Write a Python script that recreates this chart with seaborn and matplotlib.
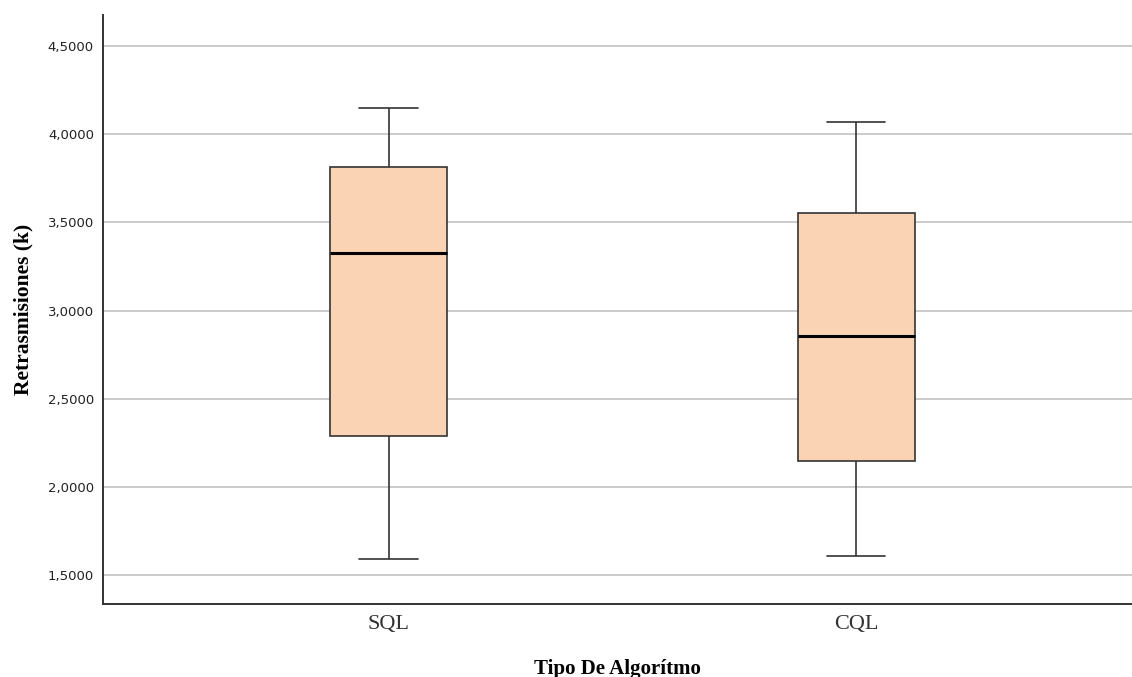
import matplotlib
matplotlib.use("Agg")
import matplotlib.pyplot as plt
import seaborn as sns
import pandas as pd
from matplotlib.ticker import FuncFormatter

# Five-number summaries (min, Q1, median, Q3, max)
categories = ["SQL", "CQL"]
sql_values = [1.591, 2.290, 3.324, 3.813, 4.147]
cql_values = [1.608, 2.146, 2.854, 3.553, 4.070]
y_ticks = [1.5, 2.0, 2.5, 3.0, 3.5, 4.0, 4.5]

df = pd.DataFrame({
    "Tipo De Algorítmo": [categories[0]] * len(sql_values) + [categories[1]] * len(cql_values),
    "Retrasmisiones (k)": sql_values + cql_values,
})

sns.set_theme(style="white")
plt.rcParams["font.family"] = ["DejaVu Sans"]

fig = plt.figure(figsize=(11.32, 6.77), dpi=100)
ax = fig.add_axes([103 / 1132, (677 - 604) / 677, 1029 / 1132, 589 / 677])

edge = "#333333"
sns.boxplot(
    data=df, x="Tipo De Algorítmo", y="Retrasmisiones (k)", order=categories,
    color="#FAD3B4", width=0.25, saturation=1, whis=1.5, ax=ax,
    boxprops=dict(facecolor="#FAD3B4", edgecolor=edge, linewidth=1.2),
    whiskerprops=dict(color=edge, linewidth=1.2),
    capprops=dict(color=edge, linewidth=1.2),
    medianprops=dict(color="black", linewidth=2.2),
    showfliers=False, zorder=3,
)

ax.set_xlim(-0.6107, 1.590)
ax.set_ylim(1.336, 4.676)
ax.set_yticks(y_ticks)
ax.yaxis.set_major_formatter(FuncFormatter(lambda v, p: f"{v:.4f}".replace(".", ",")))
ax.grid(axis="y", color="#BDBDBD", linewidth=1.1, zorder=0)
ax.set_axisbelow(True)

for s in ["top", "right"]:
    ax.spines[s].set_visible(False)
for s in ["left", "bottom"]:
    ax.spines[s].set_color(edge)
    ax.spines[s].set_linewidth(1.4)

ax.tick_params(axis="y", length=0, pad=6.5, labelsize=9.5, labelcolor="#222222")
ax.tick_params(axis="x", length=0, pad=8, labelsize=16, labelcolor="#333333")
for lbl in ax.get_xticklabels():
    lbl.set_family("Liberation Serif")

ax.set_xlabel("Tipo De Algorítmo", family="Liberation Serif", fontweight="bold",
              fontsize=15, color="black", labelpad=18)
ax.set_ylabel("Retrasmisiones (k)", family="Liberation Serif", fontweight="bold",
              fontsize=15.5, color="black", labelpad=10)

fig.savefig("out.png", dpi=100)
